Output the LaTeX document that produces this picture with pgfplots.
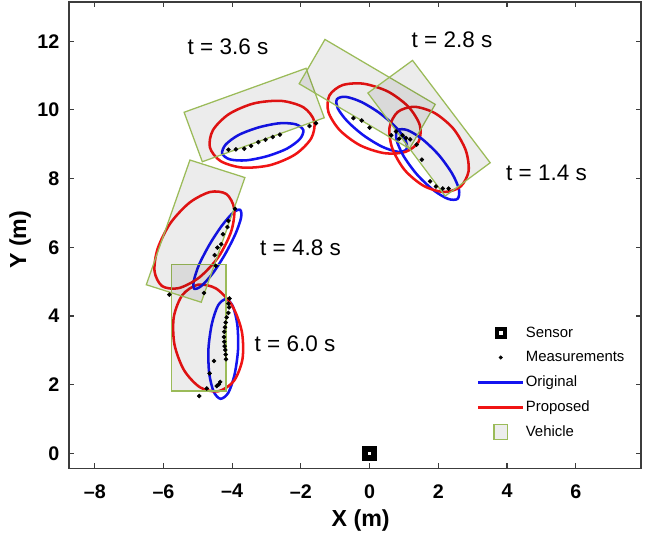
\documentclass[border=0pt]{standalone}
\usepackage{fontspec}
\setmainfont{Liberation Sans}
\usepackage{pgfplots}
\pgfplotsset{compat=1.18}
\definecolor{vgreen}{RGB}{155,187,89}
\definecolor{spine}{RGB}{60,60,60}
\definecolor{mred}{RGB}{240,20,20}
\definecolor{mblue}{RGB}{20,20,240}

\begin{document}
\begin{tikzpicture}
\begin{axis}[
  x=0.8587cm, y=0.8587cm,
  xmin=-8.75, xmax=7.9, ymin=-0.43, ymax=13.14,
  xtick={-8,-6,...,6}, ytick={0,2,...,12},
  xticklabels={--8,--6,--4,--2,0,2,4,6},
  yticklabels={0,2,4,6,8,10,12},
  tick align=inside, major tick length=0.13cm,
  axis line style={spine, line width=0.8pt},
  every tick/.style={spine, line width=0.8pt},
  tick label style={font=\fontsize{14}{14}\selectfont\bfseries},
  xticklabel style={yshift=-0.28cm},
  yticklabel style={xshift=-0.12cm},
  xlabel={X (m)}, ylabel={Y (m)},
  label style={font=\fontsize{16.5}{16.5}\selectfont\bfseries},
  xlabel style={at={(axis description cs:0.51,-0.1116)}, anchor=center},
  ylabel style={at={(axis description cs:-0.0853,0.49)}, anchor=center},
  legend image code/.code={\draw[mark repeat=2,mark phase=2,#1] plot coordinates {(0cm,0cm) (0.55cm,0cm) (1.1cm,0cm)};},
  legend style={at={(0.708,0.316)}, anchor=north west, draw=none, fill=none,
    font=\fontsize{10.6}{12}\selectfont, row sep=0.16cm,
    /tikz/every even column/.append style={column sep=0.1cm}},
  legend cell align=left,
]
% measurements
\addplot[only marks, mark=*, mark size=1.4pt, black, forget plot] coordinates {
  (-4.11,8.84)(-3.89,8.85)(-3.65,8.87)(-3.45,8.95)(-3.24,9.06)(-3.03,9.13)(-2.82,9.21)(-2.61,9.28)(-1.75,9.53)(-1.56,9.61)
  (-0.47,9.76)(-0.23,9.69)(0.00,9.48)(0.63,9.26)(0.77,9.37)(0.86,9.16)(0.96,9.26)(1.06,9.18)(1.18,9.14)(1.37,8.99)
  (1.52,8.55)(1.76,7.92)(1.93,7.77)(2.13,7.71)(2.30,7.71)
  (-3.92,7.12)(-4.11,6.77)(-4.14,6.59)(-4.27,6.38)(-4.32,6.09)(-4.43,5.99)(-4.51,5.77)(-4.48,5.46)(-5.83,4.62)(-4.82,4.67)
  (-4.08,4.51)(-4.11,4.36)(-4.09,4.25)(-4.11,4.09)(-4.16,3.96)(-4.19,3.81)(-4.21,3.67)(-4.23,3.54)(-4.24,3.39)(-4.23,3.25)
  (-4.22,3.12)(-4.20,3.01)(-4.19,2.88)(-4.18,2.74)(-4.53,2.69)(-4.66,2.33)(-4.35,2.08)(-4.39,2.01)(-4.45,1.96)(-4.74,1.89)
  (-4.96,1.67)
};
% sensor
\addplot[only marks, mark=square*, mark size=3.3pt, mark options={draw=black, fill=white, line width=4pt}, forget plot] coordinates {(0,0)};

% t = 6.0 s
\addplot[mblue, line width=1.8pt, smooth cycle, forget plot] coordinates {
  (-4.18,4.49)(-4.41,4.31)(-4.59,3.78)(-4.69,3.06)(-4.67,2.34)(-4.54,1.80)
  (-4.34,1.59)(-4.11,1.77)(-3.93,2.30)(-3.83,3.02)(-3.85,3.74)(-3.98,4.28)};
\addplot[mred, line width=1.8pt, smooth cycle, forget plot] coordinates {
  (-5.00,4.91)(-5.45,4.61)(-5.70,3.97)(-5.68,3.17)(-5.40,2.42)(-4.93,1.92)
  (-4.40,1.81)(-3.95,2.11)(-3.70,2.75)(-3.72,3.55)(-4.00,4.30)(-4.47,4.80)};
% t = 4.8 s
\addplot[mblue, line width=1.8pt, smooth cycle, forget plot] coordinates {
  (-3.77,7.09)(-3.97,7.01)(-4.30,6.63)(-4.66,6.08)(-4.97,5.48)(-5.12,5.01)
  (-5.10,4.79)(-4.89,4.88)(-4.56,5.25)(-4.20,5.81)(-3.90,6.40)(-3.74,6.87)};
\addplot[mred, line width=1.8pt, smooth cycle, forget plot] coordinates {
  (-4.17,7.55)(-4.64,7.61)(-5.24,7.30)(-5.80,6.70)(-6.17,5.96)(-6.26,5.30)
  (-6.04,4.87)(-5.56,4.81)(-4.96,5.12)(-4.40,5.72)(-4.03,6.46)(-3.94,7.12)};
% t = 3.6 s
\addplot[mblue, line width=1.8pt, smooth cycle, forget plot] coordinates {
  (-1.93,9.41)(-2.15,9.58)(-2.62,9.61)(-3.23,9.49)(-3.81,9.27)(-4.19,8.99)
  (-4.29,8.73)(-4.07,8.56)(-3.60,8.53)(-2.99,8.65)(-2.41,8.87)(-2.03,9.15)};
\addplot[mred, line width=1.8pt, smooth cycle, forget plot] coordinates {
  (-1.61,9.67)(-1.92,10.07)(-2.56,10.26)(-3.36,10.19)(-4.09,9.88)(-4.56,9.41)
  (-4.65,8.91)(-4.34,8.51)(-3.70,8.32)(-2.90,8.39)(-2.17,8.70)(-1.70,9.17)};
% t = 2.8 s
\addplot[mblue, line width=1.8pt, smooth cycle, forget plot] coordinates {
  (1.07,8.85)(1.05,9.11)(0.77,9.49)(0.30,9.90)(-0.24,10.23)(-0.70,10.38)
  (-0.95,10.31)(-0.93,10.05)(-0.65,9.67)(-0.18,9.26)(0.36,8.93)(0.82,8.78)};
\addplot[mred, line width=1.8pt, smooth cycle, forget plot] coordinates {
  (1.43,9.08)(1.46,9.56)(1.13,10.09)(0.54,10.53)(-0.17,10.76)(-0.79,10.72)
  (-1.17,10.42)(-1.20,9.94)(-0.87,9.41)(-0.28,8.97)(0.43,8.74)(1.05,8.78)};
% t = 1.4 s
\addplot[mblue, line width=1.8pt, smooth cycle, forget plot] coordinates {
  (2.56,7.41)(2.60,7.69)(2.40,8.15)(2.01,8.69)(1.53,9.15)(1.10,9.41)
  (0.82,9.41)(0.78,9.14)(0.98,8.67)(1.37,8.13)(1.85,7.67)(2.28,7.41)};
\addplot[mred, line width=1.8pt, smooth cycle, forget plot] coordinates {
  (2.64,7.76)(2.88,8.21)(2.80,8.82)(2.44,9.45)(1.89,9.91)(1.30,10.09)
  (0.82,9.94)(0.58,9.49)(0.66,8.88)(1.02,8.25)(1.57,7.79)(2.16,7.61)};

% vehicles
\addplot[draw=vgreen, line width=0.9pt, fill=black, fill opacity=0.075, forget plot] coordinates {
  (-5.77,1.82)(-4.18,1.82)(-4.18,5.50)(-5.77,5.50)} -- cycle;
\addplot[draw=vgreen, line width=0.9pt, fill=black, fill opacity=0.075, forget plot] coordinates {
  (-6.50,4.91)(-4.90,4.40)(-3.63,8.03)(-5.23,8.54)} -- cycle;
\addplot[draw=vgreen, line width=0.9pt, fill=black, fill opacity=0.075, forget plot] coordinates {
  (-4.87,8.49)(-1.32,9.77)(-1.85,11.21)(-5.40,9.93)} -- cycle;
\addplot[draw=vgreen, line width=0.9pt, fill=black, fill opacity=0.075, forget plot] coordinates {
  (-2.05,10.76)(-1.30,12.05)(1.91,10.16)(1.16,8.87)} -- cycle;
\addplot[draw=vgreen, line width=0.9pt, fill=black, fill opacity=0.075, forget plot] coordinates {
  (-0.05,10.49)(1.25,11.44)(3.51,8.46)(2.20,7.49)} -- cycle;

% time labels
\node[font=\fontsize{16}{16}\selectfont] at (axis cs:-4.12,11.83) {t = 3.6 s};
\node[font=\fontsize{16}{16}\selectfont] at (axis cs:2.40,12.03) {t = 2.8 s};
\node[font=\fontsize{16}{16}\selectfont] at (axis cs:5.15,8.17) {t = 1.4 s};
\node[font=\fontsize{16}{16}\selectfont] at (axis cs:-2.01,5.98) {t = 4.8 s};
\node[font=\fontsize{16}{16}\selectfont] at (axis cs:-2.17,3.19) {t = 6.0 s};

% legend
\addlegendimage{only marks, mark=square*, mark size=2.8pt, mark options={draw=black, fill=white, line width=2.6pt}}
\addlegendentry{Sensor}
\addlegendimage{only marks, mark=*, mark size=1.2pt, black}
\addlegendentry{Measurements}
\addlegendimage{legend image code/.code={\fill[mblue] (0cm,-0.6pt) rectangle (1.1cm,0.6pt);}}
\addlegendentry{Original}
\addlegendimage{legend image code/.code={\fill[mred] (0cm,-0.6pt) rectangle (1.1cm,0.6pt);}}
\addlegendentry{Proposed}
\addlegendimage{legend image code/.code={\draw[vgreen, fill=black!7, line width=0.8pt] (0.38cm,-0.18cm) rectangle (0.72cm,0.18cm);}}
\addlegendentry{Vehicle}
\end{axis}
\pgfresetboundingbox
\path ([xshift=-1.725cm,yshift=-1.8cm]current axis.south west) rectangle ([xshift=0.1cm,yshift=0.05cm]current axis.north east);
\end{tikzpicture}
\end{document}
